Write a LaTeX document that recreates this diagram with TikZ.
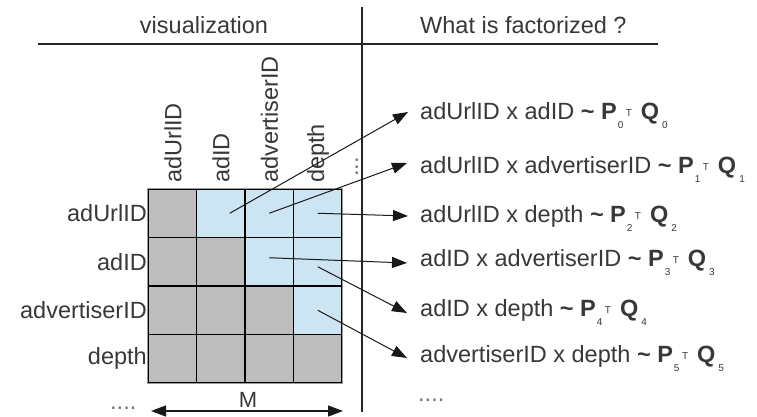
\documentclass[tikz,border=0pt]{standalone}
\usepackage{fontspec}
\setmainfont{Liberation Sans}
\usetikzlibrary{arrows.meta}
\definecolor{txt}{HTML}{383838}
\definecolor{cellgray}{HTML}{BDBDBD}
\definecolor{cellblue}{HTML}{CDE4F2}
\definecolor{edgegray}{HTML}{9A9A9A}
% small lowered index and raised transpose mark
\newcommand\lowd[1]{\raisebox{-9pt}{\fontsize{10}{10}\selectfont #1}}
\newcommand\supT{\raisebox{3pt}{\fontsize{10}{10}\selectfont T}}
\newcommand\pqpair[1]{\textbf{\symbol{"7E}} \textbf{P}\kern1pt\lowd{#1}\kern2.5pt\supT\kern9pt\textbf{Q}\kern3pt\lowd{#1}}
\begin{document}
\begin{tikzpicture}[x=1pt,y=-1pt,
  lbl/.style={font=\fontsize{23.5}{28}\selectfont, text=txt, inner sep=0pt},
  cell/.style={minimum size=48.5pt, inner sep=0pt, draw=black, line width=1.1pt},
  link/.style={-{Triangle[length=15pt,width=11pt]}, line width=1pt, draw=black!90},
  span/.style={{Triangle[length=15pt,width=11pt]}-{Triangle[length=15pt,width=11pt]}, line width=1.2pt, draw=black!90},
  rule/.style={line width=1.4pt, draw=black!85}]
\useasboundingbox (0,0) rectangle (757,416);

% header and divider
\coordinate (hl) at (38,44);
\coordinate (hr) at (658,44);
\coordinate (vt) at (362,7);
\coordinate (vb) at (362,412);
\draw[rule] (hl) -- (hr);
\draw[rule] (vt) -- (vb);
\node[lbl, anchor=base] (hv) at (204,33) {visualization};
\node[lbl, anchor=base west] (hf) at (420,33) {What is factorized ?};

% 4x4 grid: upper triangle in blue
\foreach \r in {0,...,3} \foreach \c in {0,...,3} {
  \pgfmathsetmacro\cx{172.25+48.5*\c}
  \pgfmathsetmacro\cy{213.25+48.5*\r}
  \ifnum\c>\r \def\fc{cellblue}\else\def\fc{cellgray}\fi
  \node[cell, fill=\fc] (c\r\c) at (\cx,\cy) {};
}
\draw[edgegray, line width=1.1pt] (c00.north west) rectangle (c33.south east);

% row labels
\node[lbl, anchor=east] (r0) at (147,213.25) {adUrlID};
\node[lbl, anchor=east] (r1) at (147,261.75) {adID};
\node[lbl, anchor=east] (r2) at (147,310.25) {advertiserID};
\node[lbl, anchor=east] (r3) at (147,358.75) {depth};

% column labels
\node[lbl, rotate=90, anchor=west] (k0) at (173,183) {adUrlID};
\node[lbl, rotate=90, anchor=west] (k1) at (221,183) {adID};
\node[lbl, rotate=90, anchor=west] (k2) at (269.5,183) {advertiserID};
\node[lbl, rotate=90, anchor=west] (k3) at (318,183) {depth};
\node[lbl, rotate=90, anchor=base west, text=txt!70] (kd) at (358,177) {...};

% bottom size marker
\coordinate (mL) at (151,411);
\coordinate (mR) at (343,411);
\draw[span] (mL) -- (mR);
\node[lbl, anchor=base, font=\fontsize{22}{26}\selectfont] (m) at (248,407) {M};
\node[lbl, anchor=base west, text=txt!70] (ld) at (110,409) {....};

% factorized pairs
\node[lbl, anchor=base west] (f0) at (420,119) {adUrlID x adID \pqpair{0}};
\node[lbl, anchor=base west] (f1) at (420,173) {adUrlID x advertiserID \pqpair{1}};
\node[lbl, anchor=base west] (f2) at (420,222) {adUrlID x depth \pqpair{2}};
\node[lbl, anchor=base west] (f3) at (420,266) {adID x advertiserID \pqpair{3}};
\node[lbl, anchor=base west] (f4) at (420,316) {adID x depth \pqpair{4}};
\node[lbl, anchor=base west] (f5) at (420,362) {advertiserID x depth \pqpair{5}};
\node[lbl, anchor=base west, text=txt!70] (fd) at (418,401) {....};

% arrow tips in front of each pair
\coordinate (t0) at (408,112);
\coordinate (t1) at (407,163);
\coordinate (t2) at (408,216);
\coordinate (t3) at (407,263);
\coordinate (t4) at (407,313);
\coordinate (t5) at (407,358);

\draw[link] ([xshift=9pt]c01.center) -- (t0);
\draw[link] (c02.center) -- (t1);
\draw[link] (c03.center) -- (t2);
\draw[link] ([yshift=4pt]c12.center) -- (t3);
\draw[link] ([yshift=-5pt]c13.center) -- (t4);
\draw[link] (c23.center) -- (t5);
\end{tikzpicture}
\end{document}
